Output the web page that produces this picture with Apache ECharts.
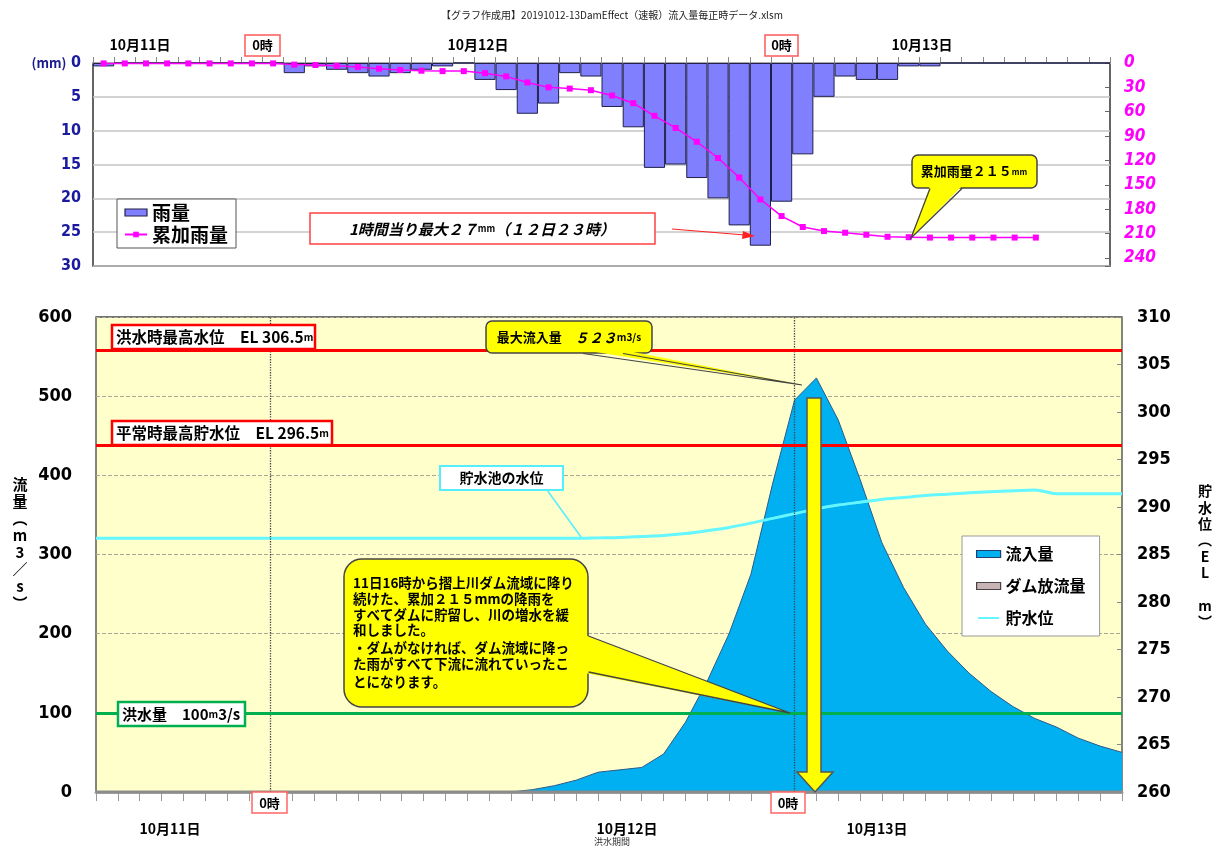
<!DOCTYPE html>
<html lang="ja"><head><meta charset="utf-8"><title>流入量</title>
<script src="https://cdn.jsdelivr.net/npm/echarts@6.0.0/dist/echarts.min.js"></script>
<style>html,body{margin:0;padding:0;background:#fff;}#main{width:1223px;height:847px;}</style>
</head><body><div id="main"></div>
<script>
// ---- data ----
const hours = ['11日16時','11日17時','11日18時','11日19時','11日20時','11日21時','11日22時','11日23時',
 '12日0時','12日1時','12日2時','12日3時','12日4時','12日5時','12日6時','12日7時','12日8時','12日9時','12日10時','12日11時',
 '12日12時','12日13時','12日14時','12日15時','12日16時','12日17時','12日18時','12日19時','12日20時','12日21時','12日22時','12日23時',
 '13日0時','13日1時','13日2時','13日3時','13日4時','13日5時','13日6時','13日7時','13日8時','13日9時','13日10時','13日11時',
 '13日12時','13日13時','13日14時','13日15時'];
const rain = [0.5,0,0,0,0,0,0,0, 0,1.5,0.5,1,1.5,2,1.5,1, 0.5,0,2.5,4,7.5,6,1.5,2,
 6.5,9.5,15.5,15,17,20,24,27, 20.5,13.5,5,2,2.5,2.5,0.5,0.5, 0,0,0,0,0,0,0,0];
const cumRain = [0.5,0.5,0.5,0.5,0.5,0.5,0.5,0.5, 0.5,2,2.5,3.5,5,7,8.5,9.5, 10,10,12.5,16.5,24,30,31.5,33.5,
 40,49.5,65,80,97,117,141,168, 188.5,202,207,209,211.5,214,214.5,215, 215,215,215,215,215,null,null,null];
const inflow = [0,0,0,0,0,0,0,0, 0,0,0,0,0,0,0,0, 0,0,0,0,3,8,15,25,
 28,31,48,88,140,200,275,390, 495,523,470,395,315,258,212,178, 150,127,108,93,82,68,58,50];
const release = [0,0,0,0,0,0,0,0, 0,0,0,0,0,0,0,0, 0,0,0,0,0,0,0,0,
 0,0,0,0,0,0,0,0, 0,0,0,0,0,0,0,0, 0,0,0,0,0,0,0,0];
const level = [286.7,286.7,286.7,286.7,286.7,286.7,286.7,286.7, 286.7,286.7,286.7,286.7,286.7,286.7,286.7,286.7,
 286.7,286.7,286.7,286.7,286.7,286.7,286.7,286.75, 286.8,286.9,287.0,287.2,287.5,287.85,288.3,288.8,
 289.3,289.8,290.2,290.5,290.8,291.0,291.2,291.35, 291.5,291.6,291.7,291.8,291.4,291.4,291.4,291.4];
const floodLevel = 306.5, normalLevel = 296.5, floodFlow = 100;
const dayMarks = ['12日0時','13日0時'];

// ---- styles ----
const JP = '"Noto Sans CJK JP", "Noto Sans", sans-serif';
const NUM = '"Liberation Sans Narrow", "DejaVu Sans Condensed", "Noto Sans CJK JP", sans-serif';
const f = (s, w) => (w || 'bold') + ' ' + s + 'px ' + JP;
const lineIcon = 'path://M0,0L0.01,0M0,10L0.01,10M0,3.5H30V6.5H0Z';

function rect(x, y, w, h, stroke, lw, fill, r) {
  return {type: 'rect', shape: {x: x, y: y, width: w, height: h, r: r || 0}, style: {fill: fill || '#fff', stroke: stroke, lineWidth: lw}};
}
function text(x, y, str, font, o) {
  return {type: 'text', x: x, y: y, style: Object.assign({text: str, font: font, fill: '#000',
    align: 'center', verticalAlign: 'middle', textAlign: 'center', textVerticalAlign: 'middle'}, o || {})};
}
function poly(points, fill) { return {type: 'polygon', shape: {points: points}, style: {fill: fill, stroke: null, lineWidth: 0}}; }
function pline(points, stroke, lw, dash) { return {type: 'polyline', shape: {points: points}, style: {stroke: stroke, lineWidth: lw, fill: null, lineDash: dash || null}}; }

const els = [];
// title
els.push(text(612, 15, '【グラフ作成用】20191012-13DamEffect（速報）流入量毎正時データ.xlsm', f(10, 'normal'), {fill: '#222'}));
// top date labels
els.push(text(140, 45, '10月11日', f(14)));
els.push(text(478, 45, '10月12日', f(14)));
els.push(text(922, 45, '10月13日', f(14)));
els.push(rect(245, 35, 35, 21, '#ff5a5a', 1.5, '#fff'));
els.push(text(262.5, 45.5, '0時', f(13)));
els.push(rect(765, 35, 33, 21, '#ff5a5a', 1.5, '#fff'));
els.push(text(781.5, 45.5, '0時', f(13)));
els.push(text(49, 63, '(mm)', f(13), {fill: '#1a1a90'}));
// top annotations
els.push(rect(310, 213, 345, 31, '#ff4040', 1.5, '#fff'));
els.push({type: 'text', x: 482, y: 229, style: {text: '{a|1時間当り最大２７}{b|mm}{a|（１２日２３時）}',
  align: 'center', verticalAlign: 'middle', textAlign: 'center', textVerticalAlign: 'middle',
  rich: {a: {font: 'italic bold 15px ' + JP, fill: '#000'}, b: {font: 'bold 9px ' + JP, fill: '#000'}}}});
els.push(pline([[672, 229], [745, 235]], '#ff2020', 1.2));
els.push(poly([[755, 236], [743, 231], [742, 239]], '#ff2020'));
els.push(rect(912, 155, 125, 33, '#444', 1.5, '#ffff00', 6));
els.push(poly([[930, 186], [962, 186], [911, 238]], '#ffff00'));
els.push(pline([[930, 188.5], [911, 238], [962, 188.5]], '#444', 1.3));
els.push({type: 'text', x: 974, y: 171.5, style: {text: '{a|累加雨量２１５}{b|mm}',
  align: 'center', verticalAlign: 'middle', textAlign: 'center', textVerticalAlign: 'middle',
  rich: {a: {font: 'bold 13px ' + JP, fill: '#000'}, b: {font: 'bold 8px ' + JP, fill: '#000'}}}});

// bottom chart annotations
function richLabel(x, y, a, b, size) {
  return {type: 'text', x: x, y: y, style: {text: '{a|' + a + '}{b|' + b + '}', align: 'left', verticalAlign: 'middle',
    textAlign: 'left', textVerticalAlign: 'middle',
    rich: {a: {font: 'bold ' + size + 'px ' + JP, fill: '#000'}, b: {font: 'bold 10px ' + JP, fill: '#000'}}}};
}
els.push(rect(112, 325, 203, 24, '#ff0000', 2.5, '#fff'));
els.push(richLabel(116, 337.5, '洪水時最高水位　EL 306.5', 'm', 15.5));
els.push(rect(112, 421, 220, 24, '#ff0000', 2.5, '#fff'));
els.push(richLabel(116, 433.5, '平常時最高貯水位　EL 296.5', 'm', 15.5));
els.push(rect(118, 702, 127, 24, '#00b050', 2.5, '#fff'));
els.push({type: 'text', x: 122, y: 714.5, style: {text: '{a|洪水量　100}{b|m}{a|3/s}', align: 'left', verticalAlign: 'middle',
  textAlign: 'left', textVerticalAlign: 'middle',
  rich: {a: {font: 'bold 15px ' + JP, fill: '#000'}, b: {font: 'bold 10px ' + JP, fill: '#000'}}}});
// max inflow callout
els.push(rect(486, 321, 166, 32, '#444', 1.5, '#ffff00', 6));
els.push(poly([[583, 350], [623, 350], [802, 385]], '#ffff00'));
els.push(pline([[583, 353.5], [802, 385], [623, 353.5]], '#444', 1.2));
els.push({type: 'text', x: 569, y: 337.5, style: {text: '{a|最大流入量　}{c|５２３}{b|m3/s}',
  align: 'center', verticalAlign: 'middle', textAlign: 'center', textVerticalAlign: 'middle',
  rich: {a: {font: 'bold 13px ' + JP, fill: '#000'}, c: {font: 'italic bold 14px ' + JP, fill: '#000'}, b: {font: 'bold 10px ' + JP, fill: '#000'}}}});
// water level label
els.push(pline([[547, 490], [581, 537]], '#55eeff', 1.5));
els.push(rect(440, 466, 123, 24, '#55eeff', 2, '#fff'));
els.push(text(501.5, 478, '貯水池の水位', f(14)));
// big callout
els.push(rect(344, 559, 244, 148, '#444', 1.5, '#ffff00', 18));
els.push(poly([[585, 635], [790, 713], [585, 673]], '#ffff00'));
els.push(pline([[588.5, 636], [790, 713], [588.5, 672]], '#444', 1.3));
const calloutLines = ['11日16時から摺上川ダム流域に降り', '続けた、累加２１５mmの降雨を', 'すべてダムに貯留し、川の増水を緩',
  '和しました。', '・ダムがなければ、ダム流域に降っ', 'た雨がすべて下流に流れていったこ', 'とになります。'];
const calloutY = [583, 599, 614.5, 630, 648, 664, 681.5];
calloutLines.forEach((s, i) => els.push(text(353, calloutY[i], s, f(13.5), {align: 'left', textAlign: 'left'})));
// yellow down arrow
els.push({type: 'polygon', shape: {points: [[807, 398], [821, 398], [821, 772], [833, 772], [815, 792], [797, 772], [807, 772]]},
  style: {fill: '#ffff00', stroke: '#555', lineWidth: 1.5}});
// bottom 0時 boxes and dates
els.push(rect(252, 792, 35, 21, '#ff6666', 1.5, '#fff'));
els.push(text(269.5, 803, '0時', f(13)));
els.push(rect(771, 792, 34, 21, '#ff6666', 1.5, '#fff'));
els.push(text(788, 803, '0時', f(13)));
els.push(text(170, 829, '10月11日', f(14)));
els.push(text(627, 829, '10月12日', f(14)));
els.push(text(877, 829, '10月13日', f(14)));
els.push(text(612, 842, '洪水期間', f(9, 'normal'), {fill: '#333'}));
// axis names
els.push({type: 'text', x: 20, y: 476, style: {text: '流\n量\n︵\nm\n3\n／\ns\n︶', font: f(15), fill: '#000', lineHeight: 17,
  align: 'center', verticalAlign: 'top', textAlign: 'center', textVerticalAlign: 'top'}});
els.push({type: 'text', x: 1205, y: 483, style: {text: '貯\n水\n位\n︵\nE\nL\n \nm\n︶', font: f(14), fill: '#000', lineHeight: 16.3,
  align: 'center', verticalAlign: 'top', textAlign: 'center', textVerticalAlign: 'top'}});
els.forEach((e, i) => { e.z = 100 + i; e.silent = true; });

const chart = echarts.init(document.getElementById('main'), null, {renderer: 'canvas'});
chart.setOption({
  animation: false,
  backgroundColor: '#fff',
  grid: [
    {left: 93, top: 63, width: 1017, height: 203, show: true, borderColor: '#333', borderWidth: 1.5, backgroundColor: '#fff'},
    {left: 96, top: 317, width: 1026, height: 475, show: true, borderColor: '#444', borderWidth: 1.3, backgroundColor: '#ffffcc'}
  ],
  legend: [
    {data: [{name: '雨量', icon: 'rect', itemStyle: {color: '#8080ff', borderColor: '#20204a', borderWidth: 1.2}}, {name: '累加雨量'}],
     orient: 'vertical', left: 117, top: 199, selectedMode: false, backgroundColor: '#fff', borderColor: '#555', borderWidth: 1,
     padding: [4, 8, 4, 7], itemGap: 3, itemWidth: 22, itemHeight: 7,
     textStyle: {fontFamily: JP, fontWeight: 'bold', fontSize: 19, color: '#000'}},
    {data: [{name: '流入量', icon: 'rect', itemStyle: {color: '#00b0f0', borderColor: '#1f3f6f', borderWidth: 1.2}},
            {name: 'ダム放流量', icon: 'rect', itemStyle: {color: '#c8b4b4', borderColor: '#444', borderWidth: 1.2}},
            {name: '貯水位', icon: lineIcon, itemStyle: {color: '#66f6ff', borderWidth: 0}}],
     orient: 'vertical', left: 962, top: 536, selectedMode: false, backgroundColor: '#fff', borderColor: '#999', borderWidth: 1,
     padding: [10, 14, 10, 14], itemGap: 16, itemWidth: 24, itemHeight: 7,
     textStyle: {fontFamily: JP, fontWeight: 'bold', fontSize: 16, color: '#000'}}
  ],
  xAxis: [
    {gridIndex: 0, type: 'category', data: hours, position: 'top', boundaryGap: true,
     axisLine: {lineStyle: {color: '#aaa', width: 2}}, axisTick: {show: true, interval: 0, length: 6, lineStyle: {color: '#888'}},
     axisLabel: {show: false}, splitLine: {show: false}},
    {gridIndex: 1, type: 'category', data: hours, boundaryGap: false,
     axisLine: {lineStyle: {color: '#a0a0a0', width: 3}}, axisTick: {show: true, interval: 0, length: 9, lineStyle: {color: '#999'}},
     axisLabel: {show: false}, splitLine: {show: false}}
  ],
  yAxis: [
    {gridIndex: 0, type: 'value', inverse: true, min: 0, max: 30, interval: 5,
     axisLabel: {color: '#1a1aa0', fontWeight: 'bold', fontSize: 16, fontFamily: NUM, margin: 12},
     axisLine: {show: false}, axisTick: {show: false}, splitLine: {lineStyle: {color: '#c4c4c4', width: 1.5}}},
    {gridIndex: 0, type: 'value', inverse: true, position: 'right', min: 0, max: 250, interval: 30,
     axisLabel: {color: '#ff00ff', fontWeight: 'bold', fontStyle: 'italic', fontSize: 17, fontFamily: NUM, margin: 14,
       formatter: v => (v % 30 === 0 ? String(v) : '')},
     axisLine: {show: false}, axisTick: {show: true, inside: true, length: 5, lineStyle: {color: '#666'}}, splitLine: {show: false}},
    {gridIndex: 1, type: 'value', min: 0, max: 600, interval: 100,
     axisLabel: {color: '#000', fontWeight: 'bold', fontSize: 18, fontFamily: NUM, margin: 24},
     axisLine: {show: false}, axisTick: {show: false}, splitLine: {lineStyle: {color: '#a8a898', type: 'dashed', width: 1}}},
    {gridIndex: 1, type: 'value', position: 'right', min: 260, max: 310, interval: 5,
     axisLabel: {color: '#000', fontWeight: 'bold', fontSize: 18, fontFamily: NUM, margin: 15},
     axisLine: {show: false}, axisTick: {show: true, inside: true, length: 5, lineStyle: {color: '#888'}}, splitLine: {show: false}}
  ],
  series: [
    {name: '雨量', type: 'bar', xAxisIndex: 0, yAxisIndex: 0, data: rain, barCategoryGap: '0%',
     itemStyle: {color: '#8080ff', borderColor: '#20204a', borderWidth: 1}},
    {name: '累加雨量', type: 'line', xAxisIndex: 0, yAxisIndex: 1, data: cumRain, symbol: 'rect', symbolSize: 6,
     itemStyle: {color: '#ff00ff'}, lineStyle: {color: '#ff00ff', width: 1.5}},
    {name: '流入量', type: 'line', xAxisIndex: 1, yAxisIndex: 2, data: inflow, symbol: 'none',
     itemStyle: {color: '#00b0f0'}, lineStyle: {color: '#2a5a8a', width: 1}, areaStyle: {color: '#00b0f0', opacity: 1},
     markLine: {silent: true, symbol: ['none', 'none'], label: {show: false},
       data: [
         {xAxis: dayMarks[0], lineStyle: {color: '#444', type: 'dotted', width: 1.3}},
         {xAxis: dayMarks[1], lineStyle: {color: '#444', type: 'dotted', width: 1.3}},
         {yAxis: floodFlow, lineStyle: {color: '#00b050', type: 'solid', width: 3}}
       ]}},
    {name: 'ダム放流量', type: 'line', xAxisIndex: 1, yAxisIndex: 2, data: release, symbol: 'none',
     itemStyle: {color: '#c8b4b4'}, lineStyle: {color: '#8c8c8c', width: 3}, areaStyle: {color: '#c8b4b4'}},
    {name: '貯水位', type: 'line', xAxisIndex: 1, yAxisIndex: 3, data: level, symbol: 'none', smooth: 0.3,
     itemStyle: {color: '#66f6ff'}, lineStyle: {color: '#66f6ff', width: 3},
     markLine: {silent: true, symbol: ['none', 'none'], label: {show: false},
       lineStyle: {color: '#ff0000', type: 'solid', width: 3},
       data: [{yAxis: floodLevel}, {yAxis: normalLevel}]}}
  ],
  graphic: {elements: els}
});
</script></body></html>
